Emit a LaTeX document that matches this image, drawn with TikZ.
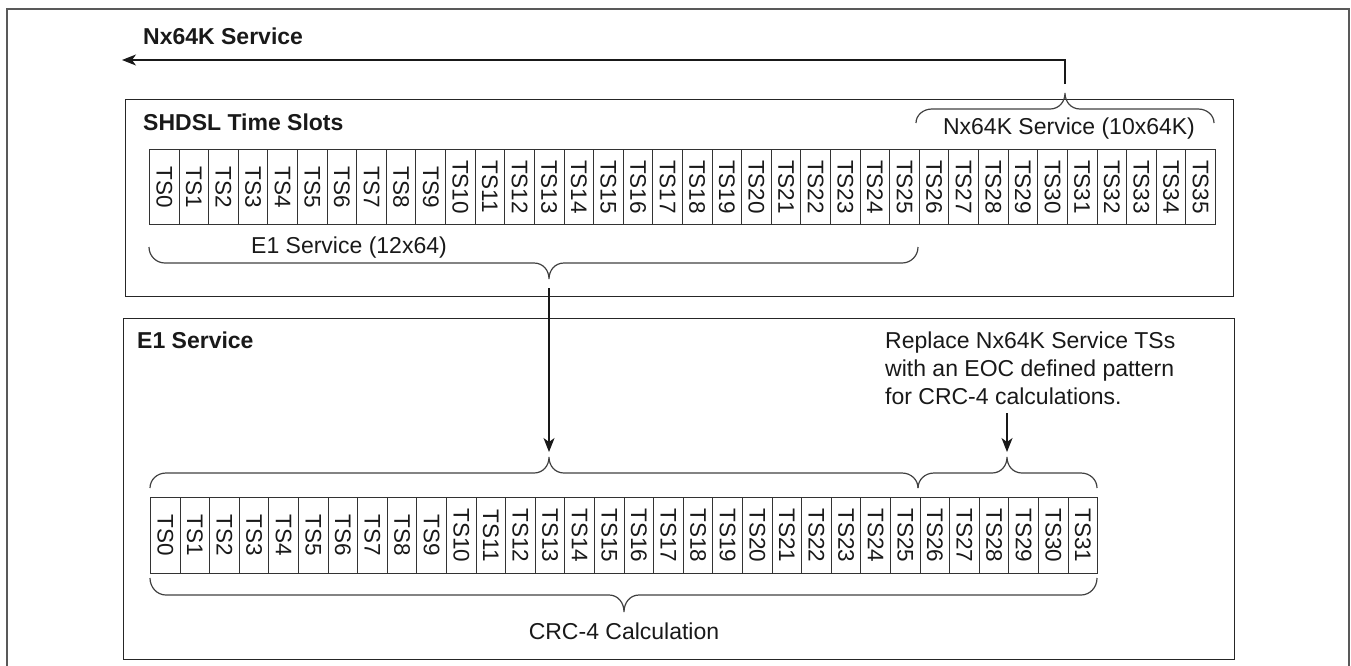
\documentclass[tikz,border=0pt]{standalone}
\usepackage{fontspec}
\setmainfont{Liberation Sans}
\usetikzlibrary{arrows.meta}
\newcommand\mybrace[6]{%
 \draw[brace] (#1,#4) .. controls (#1,{#4+0.55*(#5-#4)}) and ({#1+7},#5) .. ({#1+16},#5) -- ({#3-15},#5)
   .. controls ({#3-6},#5) and (#3,{#5+0.45*(#6-#5)}) .. (#3,#6)
   .. controls (#3,{#5+0.45*(#6-#5)}) and ({#3+6},#5) .. ({#3+15},#5)
   -- ({#2-16},#5) .. controls ({#2-7},#5) and (#2,{#4+0.55*(#5-#4)}) .. (#2,#4);}
\begin{document}
\begin{tikzpicture}[x=1pt,y=-1pt,
  frame/.style={draw=black!65, line width=1.8pt},
  box/.style={draw=black!85, line width=1.3pt, inner sep=0pt, anchor=north west},
  cell/.style={draw=black!80, line width=0.9pt, inner sep=0pt, anchor=north west, minimum width=29.6pt},
  tslbl/.style={rotate=-90, inner sep=0pt, text=black!90, font=\fontsize{22.5}{27}\selectfont},
  txt/.style={inner sep=0pt, text=black!90, font=\fontsize{23}{28}\selectfont},
  btxt/.style={inner sep=0pt, text=black!90, font=\fontsize{23}{28}\selectfont\bfseries},
  brace/.style={draw=black!75, line width=1.2pt},
  arr/.style={draw=black!90, line width=1.2pt, -{Stealth[length=14pt,width=11pt,inset=4pt]}},
]
\useasboundingbox (0,0) rectangle (1351,665);
\draw[frame] (7,672) -- (7,9) -- (1349,9) -- (1349,672);

% boxes
\node[box, minimum width=1108pt, minimum height=197pt] (shdsl) at (125,99) {};
\node[box, minimum width=1111pt, minimum height=341pt] (e1box) at (123,318) {};

% cells
\foreach \i in {0,...,35} {
  \node[cell, minimum height=75pt] (a\i) at ({149+\i*29.61},149) {};
  \node[tslbl] (al\i) at (a\i.center) {TS\i};
}
\foreach \i in {0,...,31} {
  \node[cell, minimum height=76pt] (b\i) at ({150+\i*29.6},497) {};
  \node[tslbl] (bl\i) at (b\i.center) {TS\i};
}

% braces
\mybrace{916}{1214}{1065}{123}{109}{93}
\mybrace{149}{918}{549}{247}{263}{279}
\mybrace{150}{918}{549}{488}{473}{457}
\mybrace{918}{1097}{1007}{488}{473}{457}
\mybrace{150}{1097}{624}{578}{595}{612}

% texts
\node[btxt, anchor=base west] (nxt) at (143,44) {Nx64K Service};
\node[btxt, anchor=base west] (sht) at (143,130) {SHDSL Time Slots};
\node[btxt, anchor=base west] (e1t) at (137,348) {E1 Service};
\node[txt, anchor=base] (e1l) at (349,253) {E1 Service (12x64)};
\node[txt, anchor=base] (nxl) at (1069,134) {Nx64K Service (10x64K)};
\node[txt, anchor=north west, align=left] (rep) at (885,332) {Replace Nx64K Service TSs\\with an EOC defined pattern\\for CRC-4 calculations.};
\node[txt, anchor=base] (crc) at (624,639) {CRC-4 Calculation};

% arrows
\coordinate (nxs) at (1065,84);
\coordinate (nxe) at (122,60);
\draw[arr] (nxs) |- (nxe);
\coordinate (e1s) at (549,288);
\coordinate (e1e) at (549,452);
\draw[arr] (e1s) -- (e1e);
\coordinate (rps) at (1007,413);
\coordinate (rpe) at (1007,452);
\draw[arr] (rps) -- (rpe);
\end{tikzpicture}
\end{document}
